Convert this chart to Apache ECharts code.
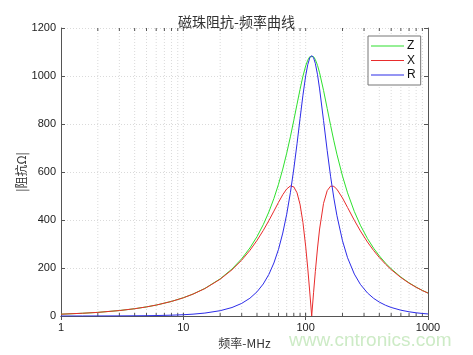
<!DOCTYPE html>
<html>
<head>
<meta charset="utf-8">
<script src="https://cdn.jsdelivr.net/npm/echarts@6/dist/echarts.min.js"></script>
<style>
  html, body { margin: 0; padding: 0; background: #fff; }
  #chart { width: 473px; height: 355px; }
</style>
</head>
<body>
<div id="chart"></div>
<script>
// frequency points, MHz
const freqs = [1, 1.5, 2, 3, 4, 5, 6, 8, 10, 12, 15, 20, 25, 30, 35, 40, 45, 50, 55, 60,
  65, 70, 75, 80, 85, 90, 95, 100, 104, 108, 112, 116, 120, 125, 130, 140, 150, 160, 170,
  180, 200, 220, 250, 280, 320, 360, 400, 450, 500, 600, 700, 800, 900, 1000]

// |Z|, X, R
const zVals = [7.6, 11.4, 15.1, 22.7, 30.3, 37.9, 45.5, 60.8, 76.1, 91.5, 114.9, 154.8, 195.8,
  238.6, 283.4, 330.5, 380.4, 433.3, 489.6, 549.2, 612.3, 678.5, 746.6, 815.4, 882.5, 944.9,
  999.2, 1041.9, 1065.9, 1080.3, 1085, 1080.6, 1068.4, 1044.4, 1013.2, 940.2, 864.5, 793.5,
  730.0, 674.3, 583.2, 513.2, 435.2, 378.3, 322.8, 281.9, 250.6, 220.2, 196.6, 162.1, 138.1,
  120.3, 106.6, 95.8]
const xVals = [7.6, 11.4, 15.1, 22.7, 30.3, 37.9, 45.5, 60.7, 75.9, 91.2, 114.3, 153.2, 192.6,
  232.8, 273.5, 314.9, 356.3, 397.2, 436.9, 473.6, 505.5, 529.4, 541.8, 537.9, 513.4, 464.4,
  389.5, 290.8, 198.9, 100.1, 0, 96.8, 186.0, 283.2, 362.4, 469.3, 522.4, 541.2, 540.1, 528.2,
  491.7, 452.2, 398.7, 354.6, 308.2, 272.3, 243.8, 215.6, 193.3, 160.3, 136.9, 119.6, 106.1, 95.4]
const rVals = [0.05, 0.12, 0.21, 0.48, 0.85, 1.3, 1.9, 3.4, 5.3, 7.7, 12.2, 22.1, 35.4, 52.5,
  74.0, 100.7, 133.4, 173.0, 220.9, 278.0, 345.6, 424.2, 513.8, 612.9, 717.8, 823.0, 920.1,
  1000.5, 1047.3, 1075.7, 1085, 1076.3, 1052.1, 1005.2, 946.2, 814.7, 688.8, 580.3, 491.2,
  419.0, 313.4, 242.8, 174.6, 131.9, 96.0, 73.3, 57.9, 44.7, 35.6, 24.2, 17.6, 13.3, 10.5, 8.5]

// log grid positions (minor + major)
const gridFreqs = [2, 3, 4, 5, 6, 7, 8, 9, 10, 20, 30, 40, 50, 60, 70, 80, 90, 100,
  200, 300, 400, 500, 600, 700, 800, 900]

const seriesNames = ['Z', 'X', 'R']
const seriesColors = ['#2ee02e', '#e82c2c', '#2c2ce8']

const Y_MIN = 0
const Y_MAX = 1200
const FONT = 'Liberation Sans, Arial, sans-serif'
const CJK = 'Noto Sans CJK SC'
const GRID_COLOR = '#dadada'
const AXIS_COLOR = '#555'

const chart = echarts.init(document.getElementById('chart'))

function pairs (vals) {
  return freqs.map((f, i) => [f, vals[i]])
}

const option = {
  animation: false,
  backgroundColor: '#fff',
  title: {
    text: '磁珠阻抗-频率曲线',
    left: 'center',
    top: 10,
    textStyle: { fontSize: 14, fontWeight: 'normal', color: '#333', fontFamily: CJK }
  },
  grid: { left: 61, right: 45, top: 28, bottom: 39, containLabel: false, outerBoundsMode: 'none' },
  legend: {
    orient: 'vertical',
    left: 368,
    top: 36,
    itemWidth: 33,
    itemHeight: 11,
    itemGap: 2.5,
    padding: [4, 5, 4, 3],
    borderColor: '#777',
    borderWidth: 1,
    borderRadius: 0,
    backgroundColor: '#fff',
    textStyle: { fontSize: 12, color: '#111', fontFamily: FONT, padding: [0, 0, 0, -2] },
    data: seriesNames.map((n, i) => ({
      name: n,
      icon: 'path://M0,5 L33,5 L33,6 L0,6 Z',
      itemStyle: { color: seriesColors[i] }
    }))
  },
  graphic: [{
    type: 'text',
    left: 289,
    top: 331,
    silent: true,
    style: { text: 'www.cntronics.com', fontSize: 19, fill: '#cdebc6', fontFamily: FONT }
  }],
  xAxis: [{
    type: 'log',
    logBase: 10,
    min: 1,
    max: 1000,
    name: '频率-MHz',
    nameLocation: 'middle',
    nameGap: 21,
    nameMoveOverlap: false,
    nameTextStyle: { fontSize: 12, color: '#333', fontFamily: CJK },
    axisLine: { lineStyle: { color: AXIS_COLOR, width: 1 } },
    axisTick: { show: true, inside: true, length: 4, lineStyle: { color: AXIS_COLOR } },
    axisLabel: { fontSize: 11, color: '#222', fontFamily: FONT, margin: 6, formatter: v => String(v) },
    splitLine: { show: false }
  }, {
    type: 'log',
    logBase: 10,
    min: 1,
    max: 1000,
    position: 'top',
    axisLine: { lineStyle: { color: AXIS_COLOR, width: 1 } },
    axisTick: { show: true, inside: true, length: 4, lineStyle: { color: AXIS_COLOR } },
    axisLabel: { show: false },
    splitLine: { show: false }
  }],
  yAxis: [{
    type: 'value',
    min: Y_MIN,
    max: Y_MAX,
    interval: 200,
    name: '|阻抗Ω|',
    nameLocation: 'middle',
    nameGap: 34,
    nameMoveOverlap: false,
    nameTextStyle: { fontSize: 12, color: '#333', fontFamily: CJK },
    axisLine: { show: true, lineStyle: { color: AXIS_COLOR, width: 1 } },
    axisTick: { show: true, inside: true, length: 4, lineStyle: { color: AXIS_COLOR } },
    axisLabel: { fontSize: 11, color: '#222', fontFamily: FONT, margin: 5, formatter: v => String(v) },
    splitLine: { show: true, lineStyle: { color: GRID_COLOR, type: [1, 2], width: 1 } }
  }, {
    type: 'value',
    min: Y_MIN,
    max: Y_MAX,
    interval: 200,
    position: 'right',
    axisLine: { show: true, lineStyle: { color: AXIS_COLOR, width: 1 } },
    axisTick: { show: true, inside: true, length: 4, lineStyle: { color: AXIS_COLOR } },
    axisLabel: { show: false },
    splitLine: { show: false }
  }],
  series: [
    {
      // vertical log grid + minor ticks on top and bottom
      type: 'custom',
      silent: true,
      z: 1,
      data: gridFreqs.map(f => [f]),
      encode: { x: 0 },
      renderItem: function (params, api) {
        const f = api.value(0)
        const b = api.coord([f, Y_MIN])
        const t = api.coord([f, Y_MAX])
        return {
          type: 'group',
          children: [
            { type: 'line', shape: { x1: b[0], y1: b[1], x2: t[0], y2: t[1] },
              style: { stroke: GRID_COLOR, lineWidth: 1, lineDash: [1, 2] } },
            { type: 'line', shape: { x1: b[0], y1: b[1], x2: b[0], y2: b[1] - 3 },
              style: { stroke: AXIS_COLOR, lineWidth: 1 } },
            { type: 'line', shape: { x1: t[0], y1: t[1], x2: t[0], y2: t[1] + 3 },
              style: { stroke: AXIS_COLOR, lineWidth: 1 } }
          ]
        }
      }
    },
    // plotted in order Z, X, R so R ends up on top
    ...[zVals, xVals, rVals].map((vals, i) => ({
      name: seriesNames[i],
      type: 'line',
      data: pairs(vals),
      symbol: 'none',
      smooth: false,
      z: 3 + i,
      color: seriesColors[i],
      lineStyle: { width: 1, color: seriesColors[i] }
    }))
  ]
}

chart.setOption(option)
</script>
</body>
</html>
